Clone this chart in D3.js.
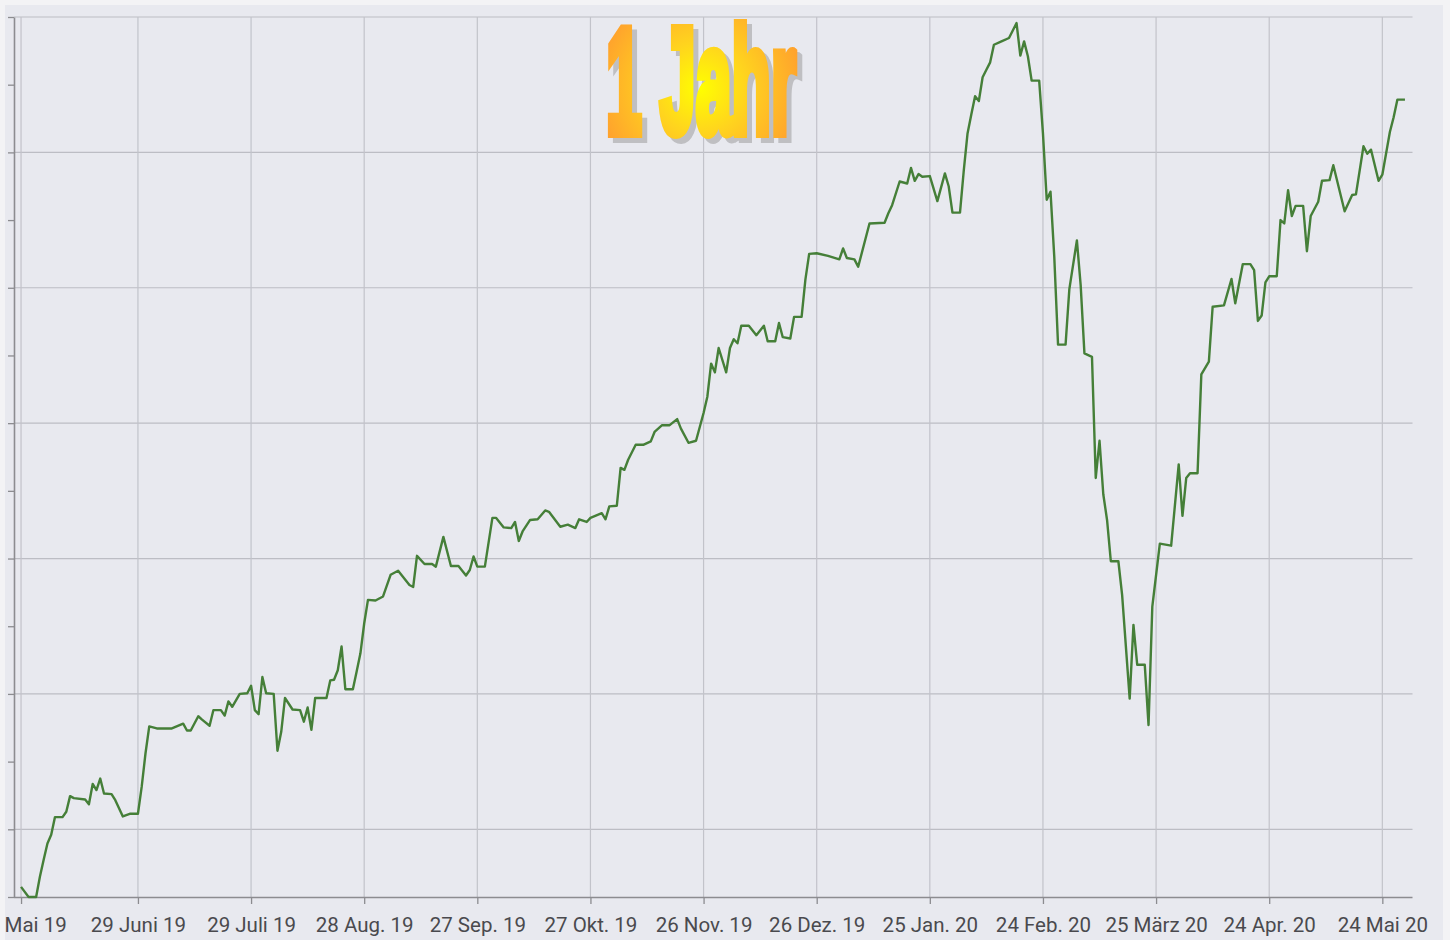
<!DOCTYPE html>
<html>
<head>
<meta charset="utf-8">
<script src="https://cdn.jsdelivr.net/npm/d3@7"></script>
<style>
  html, body { margin: 0; padding: 0; background: #f3f3f5; }
  svg { display: block; }
</style>
</head>
<body>
<svg id="chart" width="1450" height="940"></svg>
<script>
// ---------- DATA ----------
const dates = [
"2019-05-29","2019-05-31","2019-06-02","2019-06-03","2019-06-04","2019-06-05","2019-06-06","2019-06-07","2019-06-09","2019-06-10",
"2019-06-11","2019-06-12","2019-06-15","2019-06-16","2019-06-17","2019-06-18","2019-06-19","2019-06-20","2019-06-22","2019-06-23",
"2019-06-25","2019-06-27","2019-06-29","2019-06-30","2019-07-01","2019-07-02","2019-07-04","2019-07-08","2019-07-11","2019-07-12",
"2019-07-13","2019-07-15","2019-07-16","2019-07-18","2019-07-19","2019-07-21","2019-07-22","2019-07-23","2019-07-24","2019-07-26",
"2019-07-28","2019-07-29","2019-07-30","2019-07-31","2019-08-01","2019-08-02","2019-08-04","2019-08-05","2019-08-06","2019-08-07",
"2019-08-09","2019-08-11","2019-08-12","2019-08-13","2019-08-14","2019-08-15","2019-08-18","2019-08-19","2019-08-20","2019-08-21",
"2019-08-22","2019-08-23","2019-08-25","2019-08-26","2019-08-27","2019-08-28","2019-08-29","2019-08-31","2019-09-02","2019-09-04",
"2019-09-06","2019-09-09","2019-09-10","2019-09-11","2019-09-13","2019-09-15","2019-09-16","2019-09-18","2019-09-20","2019-09-22",
"2019-09-24","2019-09-25","2019-09-26","2019-09-27","2019-09-29","2019-10-01","2019-10-02","2019-10-04","2019-10-06","2019-10-07",
"2019-10-08","2019-10-09","2019-10-11","2019-10-13","2019-10-15","2019-10-16","2019-10-19","2019-10-21","2019-10-23","2019-10-24",
"2019-10-26","2019-10-27","2019-10-30","2019-10-31","2019-11-01","2019-11-03","2019-11-04","2019-11-05","2019-11-06","2019-11-08",
"2019-11-10","2019-11-12","2019-11-13","2019-11-15","2019-11-17","2019-11-19","2019-11-20","2019-11-22","2019-11-24","2019-11-26",
"2019-11-27","2019-11-28","2019-11-29","2019-11-30","2019-12-02","2019-12-03","2019-12-04","2019-12-05","2019-12-06","2019-12-08",
"2019-12-10","2019-12-12","2019-12-13","2019-12-15","2019-12-16","2019-12-17","2019-12-19","2019-12-20","2019-12-22","2019-12-23",
"2019-12-24","2019-12-26","2019-12-29","2020-01-01","2020-01-02","2020-01-03","2020-01-05","2020-01-06","2020-01-09","2020-01-13",
"2020-01-14","2020-01-15","2020-01-17","2020-01-19","2020-01-20","2020-01-21","2020-01-22","2020-01-23","2020-01-25","2020-01-27",
"2020-01-29","2020-01-30","2020-01-31","2020-02-02","2020-02-03","2020-02-04","2020-02-05","2020-02-06","2020-02-07","2020-02-08",
"2020-02-09","2020-02-10","2020-02-11","2020-02-13","2020-02-15","2020-02-16","2020-02-17","2020-02-18","2020-02-19","2020-02-20",
"2020-02-21","2020-02-23","2020-02-24","2020-02-25","2020-02-26","2020-02-27","2020-02-28","2020-03-01","2020-03-02","2020-03-04",
"2020-03-05","2020-03-06","2020-03-08","2020-03-09","2020-03-10","2020-03-11","2020-03-12","2020-03-13","2020-03-15","2020-03-16",
"2020-03-18","2020-03-19","2020-03-20","2020-03-22","2020-03-23","2020-03-24","2020-03-26","2020-03-29","2020-03-31","2020-04-01",
"2020-04-02","2020-04-03","2020-04-05","2020-04-06","2020-04-08","2020-04-09","2020-04-12","2020-04-14","2020-04-15","2020-04-17",
"2020-04-19","2020-04-20","2020-04-21","2020-04-22","2020-04-23","2020-04-24","2020-04-26","2020-04-27","2020-04-28","2020-04-29",
"2020-04-30","2020-05-01","2020-05-03","2020-05-04","2020-05-05","2020-05-07","2020-05-08","2020-05-10","2020-05-11","2020-05-14",
"2020-05-16","2020-05-17","2020-05-19","2020-05-20","2020-05-21","2020-05-23","2020-05-24","2020-05-26","2020-05-27","2020-05-28",
"2020-05-30"
];
const values = [
101.5,100.0,100.0,103.0,105.5,107.9,109.2,111.8,111.8,112.6,
114.9,114.6,114.4,113.7,116.7,115.8,117.5,115.3,115.2,114.3,
111.9,112.3,112.3,116.3,121.2,125.2,124.9,124.9,125.6,124.6,
124.6,126.7,126.2,125.3,127.6,127.6,126.8,128.9,128.1,130.0,
130.1,131.2,127.6,127.0,132.5,130.1,130.0,121.6,124.4,129.4,
127.7,127.6,125.9,128.0,124.7,129.4,129.4,132.0,132.1,133.5,
137.0,130.7,130.7,133.3,136.0,140.4,143.9,143.8,144.4,147.6,
148.2,146.1,145.8,150.4,149.2,149.2,148.8,153.2,148.9,148.9,
147.5,148.3,150.3,148.8,148.8,156.0,156.0,154.6,154.5,155.4,
152.6,154.0,155.7,155.8,157.1,156.9,154.7,155.0,154.5,155.8,
155.4,156.0,156.7,155.8,157.7,157.8,163.4,163.1,164.6,166.8,
166.8,167.3,168.7,169.7,169.7,170.6,169.2,167.1,167.4,171.5,
173.9,178.8,177.5,181.1,177.5,181.1,182.4,181.8,184.4,184.4,
183.0,184.4,182.1,182.1,184.8,182.7,182.5,185.7,185.7,191.2,
195.0,195.1,194.7,194.2,195.8,194.4,194.2,193.1,199.5,199.6,
201.0,202.2,205.7,205.4,207.7,205.8,206.8,206.4,206.5,202.8,
206.9,205.0,201.1,201.1,207.3,212.8,215.6,218.3,217.6,221.1,
222.2,223.3,225.9,226.4,226.9,228.0,229.1,224.3,226.4,224.2,
220.6,220.6,212.8,203.0,204.2,194.6,181.6,181.6,189.8,197.0,
190.4,180.3,179.8,161.9,167.4,159.5,155.7,149.6,149.6,144.6,
129.3,140.2,134.3,134.3,125.4,142.9,152.2,151.9,163.9,156.3,
161.9,162.6,162.6,177.2,179.1,187.2,187.4,191.3,187.7,193.5,
193.5,192.6,185.1,185.9,190.8,191.7,191.7,200.0,199.5,204.4,
200.6,202.1,202.1,195.4,200.6,202.7,205.8,205.9,208.1,201.3,
203.7,203.8,210.9,209.8,210.4,205.8,206.7,213.0,215.2,217.8,
217.8
];
const tickDates = ["2019-05-29","2019-06-29","2019-07-29","2019-08-28","2019-09-27","2019-10-27",
  "2019-11-26","2019-12-26","2020-01-25","2020-02-24","2020-03-25","2020-04-24","2020-05-24"];
const tickLabels = ["29 Mai 19","29 Juni 19","29 Juli 19","28 Aug. 19","27 Sep. 19","27 Okt. 19",
  "26 Nov. 19","26 Dez. 19","25 Jan. 20","24 Feb. 20","25 März 20","24 Apr. 20","24 Mai 20"];
const yTicks = [100,110,120,130,140,150,160,170,180,190,200,210,220,230];
const yGrid = [110,130,150,170,190,210,230];
const titleText = "1 Jahr";

// ---------- CHART ----------
(function () {
const parse = d3.utcParse("%Y-%m-%d");
const data = dates.map((d, i) => ({ date: parse(d), value: values[i] }));
const svg = d3.select("#chart");

const pLeft = 14, pRight = 1412.5, pTop = 17, pBottom = 897;
const x = d3.scaleUtc()
  .domain([parse("2019-05-27"), parse("2020-06-01")])
  .range([13.5, 1412.5]);
const y = d3.scaleLinear().domain([100, 230]).range([pBottom, pTop]);

const defs = svg.append("defs");
defs.append("clipPath").attr("id", "panel")
  .append("rect").attr("x", 5).attr("y", 5).attr("width", 1438).attr("height", 935);

const grad = defs.append("radialGradient").attr("id", "titleGrad")
  .attr("gradientUnits", "userSpaceOnUse")
  .attr("cx", 700).attr("cy", 88).attr("r", 115);
grad.append("stop").attr("offset", "0%").attr("stop-color", "#ffff00");
grad.append("stop").attr("offset", "40%").attr("stop-color", "#ffd41e");
grad.append("stop").attr("offset", "100%").attr("stop-color", "#ff9830");

const root = svg.append("g").attr("clip-path", "url(#panel)");
root.append("rect").attr("x", 5).attr("y", 5).attr("width", 1438).attr("height", 935)
  .attr("fill", "#e8e9ef");

// grid
root.append("g").selectAll("line").data(yGrid).join("line")
  .attr("x1", pLeft).attr("x2", pRight)
  .attr("y1", d => y(d)).attr("y2", d => y(d))
  .attr("stroke", "#bcbdc4").attr("stroke-width", 1.2);
root.append("g").selectAll("line").data(tickDates).join("line")
  .attr("x1", d => x(parse(d))).attr("x2", d => x(parse(d)))
  .attr("y1", pTop).attr("y2", pBottom)
  .attr("stroke", "#c2c3ca").attr("stroke-width", 1.2);

// axes
const xAxis = d3.axisBottom(x)
  .tickValues(tickDates.map(parse))
  .tickFormat((d, i) => tickLabels[i])
  .tickSize(7).tickSizeOuter(0);
const gx = root.append("g").attr("transform", `translate(0,${pBottom})`).call(xAxis);
gx.select(".domain").attr("stroke", "#8c8c90").attr("stroke-width", 1.5)
  .attr("d", `M${pLeft},0.5H${pRight}`);
gx.selectAll(".tick line").attr("stroke", "#8c8c90").attr("stroke-width", 1.3);
gx.selectAll(".tick text")
  .attr("y", 20).attr("dy", "0.71em")
  .attr("fill", "#4a4a4e")
  .style("font-family", "Roboto, 'Noto Sans', sans-serif")
  .style("font-size", "20.5px");

const yAxis = d3.axisLeft(y).tickValues(yTicks).tickFormat("").tickSize(6).tickSizeOuter(0);
const gy = root.append("g").attr("transform", `translate(${pLeft},0)`).call(yAxis);
gy.select(".domain").attr("stroke", "#8c8c90").attr("stroke-width", 1.6);
gy.selectAll(".tick line").attr("stroke", "#8c8c90").attr("stroke-width", 1.3);

// line
const line = d3.line().x(d => x(d.date)).y(d => y(d.value));
root.append("path").datum(data)
  .attr("d", line)
  .attr("fill", "none")
  .attr("stroke", "#457f38")
  .attr("stroke-width", 2.4)
  .attr("stroke-linejoin", "round");

// title
const tf = "'Liberation Sans', Arial, sans-serif";
function title(dx, dy, fill) {
  root.append("text").text(titleText)
    .attr("x", 606 + dx).attr("y", 133 + dy)
    .attr("textLength", 190).attr("lengthAdjust", "spacingAndGlyphs")
    .style("font-family", tf).style("font-weight", "bold").style("font-size", "150px")
    .attr("fill", fill).attr("stroke", fill).attr("stroke-width", 10)
    .attr("stroke-linejoin", "miter");
}
title(5, 5, "#bfbfc2");
title(0, 0, "url(#titleGrad)");
})();
</script>
</body>
</html>
